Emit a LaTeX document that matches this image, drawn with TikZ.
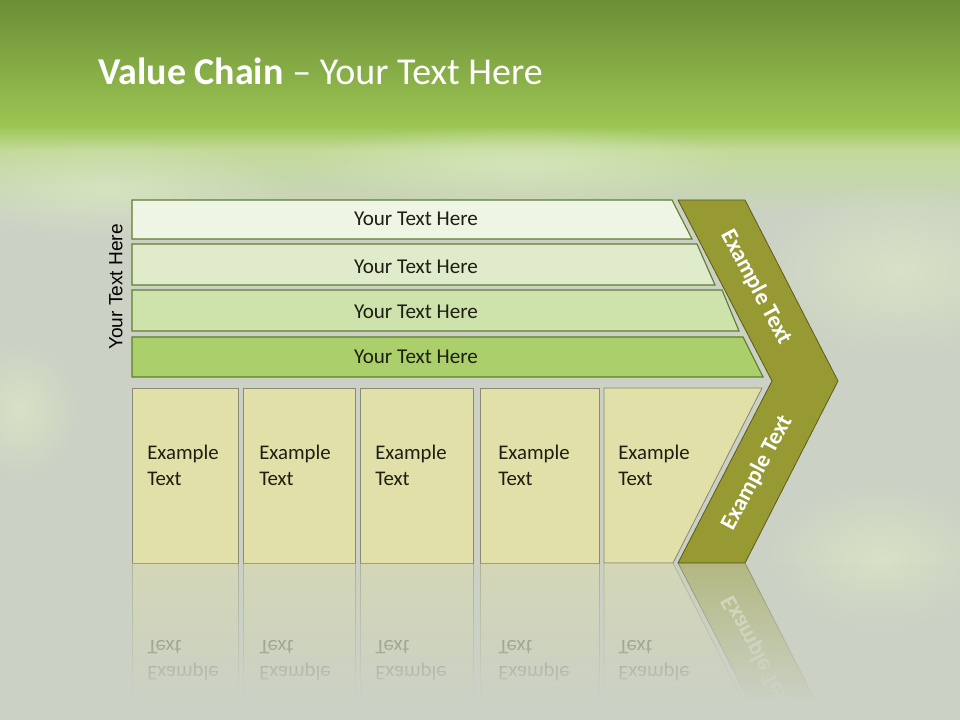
\documentclass[tikz,border=0pt]{standalone}
\usepackage{fontspec}
\setmainfont{Carlito}
\newfontfamily\arialfont{Liberation Sans}
\usetikzlibrary{fadings}
\definecolor{bgGrey}{HTML}{CBD1C4}
\definecolor{topGreen}{HTML}{6C8E37}
\definecolor{limeGreen}{HTML}{9CC653}
\definecolor{paleLime}{HTML}{C2DA98}
\definecolor{mistGreen}{HTML}{DDEBC6}
\definecolor{barEdge}{HTML}{5F7D2F}
\definecolor{barOne}{HTML}{EEF5E4}
\definecolor{barTwo}{HTML}{DFEBCB}
\definecolor{barThree}{HTML}{CEE3AB}
\definecolor{barFour}{HTML}{AACF6B}
\definecolor{oliveChev}{HTML}{979A33}
\definecolor{oliveEdge}{HTML}{5E5E1C}
\definecolor{strawFill}{HTML}{E0E0A8}
\definecolor{strawEdge}{HTML}{8A8A76}
\definecolor{inkDark}{HTML}{1E1E14}
\tikzfading[name=reflfade, top color=transparent!100, bottom color=transparent!0]
\tikzfading[name=softblob, inner color=transparent!35, outer color=transparent!100]
\tikzset{
  bar/.style     = {draw=barEdge, line width=0.8pt},
  cell/.style    = {draw=strawEdge, fill=strawFill, line width=0.6pt},
  chev/.style    = {draw=oliveEdge, fill=oliveChev, line width=0.6pt},
  bartxt/.style  = {font=\fontsize{15}{18}\selectfont, text=inkDark, inner sep=0pt},
  celltxt/.style = {font=\fontsize{14.8}{18.5}\selectfont, text=inkDark, align=left,
                    anchor=north west, inner sep=0pt},
  chevtxt/.style = {font=\fontsize{16.5}{19}\selectfont\bfseries, text=white, inner sep=0pt},
  glow/.style    = {fill=mistGreen, path fading=softblob}
}

\begin{document}
\begin{tikzpicture}[x=0.025cm, y=-0.025cm]
  \useasboundingbox (0,0) rectangle (960,720);
  % backdrop
  \fill[bgGrey] (0,0) rectangle (960,720);
  \shade[top color=limeGreen, bottom color=paleLime] (0,126) rectangle (960,150);
  \shade[top color=paleLime, bottom color=bgGrey] (0,150) rectangle (960,215);
  \fill[glow] (110,190) ellipse (190 and 50);
  \fill[glow] (520,165) ellipse (230 and 40);
  \fill[glow] (900,270) ellipse (150 and 90);
  \fill[glow] (20,410) ellipse (60 and 70);
  \fill[glow] (880,560) ellipse (120 and 80);
  \shade[top color=topGreen, bottom color=limeGreen] (0,0) rectangle (960,128);
  \node[anchor=base west, text=white, font=\fontsize{27}{30}\selectfont, inner sep=0pt]
    (title) at (98,85) {\textbf{Value Chain} -- Your Text Here};

  % side label
  \node[rotate=90, font=\arialfont\fontsize{13.6}{16}\selectfont, text=black, inner sep=0pt]
    (side) at (116,287) {Your Text Here};

  % stacked bars
  \filldraw[bar, fill=barOne]   (132,200) -- (672,200) -- (692,239) -- (132,239) -- cycle;
  \filldraw[bar, fill=barTwo]   (132,244) -- (697,244) -- (715,285) -- (132,285) -- cycle;
  \filldraw[bar, fill=barThree] (132,290) -- (722,290) -- (739,331) -- (132,331) -- cycle;
  \filldraw[bar, fill=barFour]  (132,337) -- (743,337) -- (763,377) -- (132,377) -- cycle;
  \node[bartxt] (t1) at (416,219) {Your Text Here};
  \node[bartxt] (t2) at (416,267) {Your Text Here};
  \node[bartxt] (t3) at (416,312) {Your Text Here};
  \node[bartxt] (t4) at (416,357) {Your Text Here};

  % activity cells
  \filldraw[cell] (132,388) rectangle (238,563);
  \filldraw[cell] (243,388) rectangle (355,563);
  \filldraw[cell] (360,388) rectangle (473,563);
  \filldraw[cell] (480,388) rectangle (599,563);
  \filldraw[cell] (604,388) -- (762,388) -- (673,563) -- (604,563) -- cycle;
  \foreach \cx [count=\i] in {147,259,375,498,618}
    \node[celltxt] (c\i) at (\cx,445) {Example\\Text};

  % chevron
  \filldraw[chev] (678,200) -- (745,200) -- (838,381) -- (745,563) -- (678,563) -- (772,381) -- cycle;
  \node[chevtxt, rotate=-62] (e1) at (756,287) {Example Text};
  \node[chevtxt, rotate=62]  (e2) at (757,473) {Example Text};

  % reflection
  \begin{scope}[shift={(0,1126)}, yscale=-1, transform shape, opacity=0.45]
    \filldraw[cell] (132,388) rectangle (238,563);
    \filldraw[cell] (243,388) rectangle (355,563);
    \filldraw[cell] (360,388) rectangle (473,563);
    \filldraw[cell] (480,388) rectangle (599,563);
    \filldraw[cell] (604,388) -- (762,388) -- (673,563) -- (604,563) -- cycle;
    \foreach \cx [count=\i] in {147,259,375,498,618}
      \node[celltxt, opacity=0.6] (r\i) at (\cx,445) {Example\\Text};
    \filldraw[chev] (772,381) -- (838,381) -- (745,563) -- (678,563) -- cycle;
    \node[chevtxt, rotate=62] (re) at (757,473) {Example Text};
  \end{scope}
  \fill[bgGrey, path fading=reflfade] (0,563) rectangle (960,700);
  \fill[bgGrey] (0,700) rectangle (960,720);
\end{tikzpicture}
\end{document}
